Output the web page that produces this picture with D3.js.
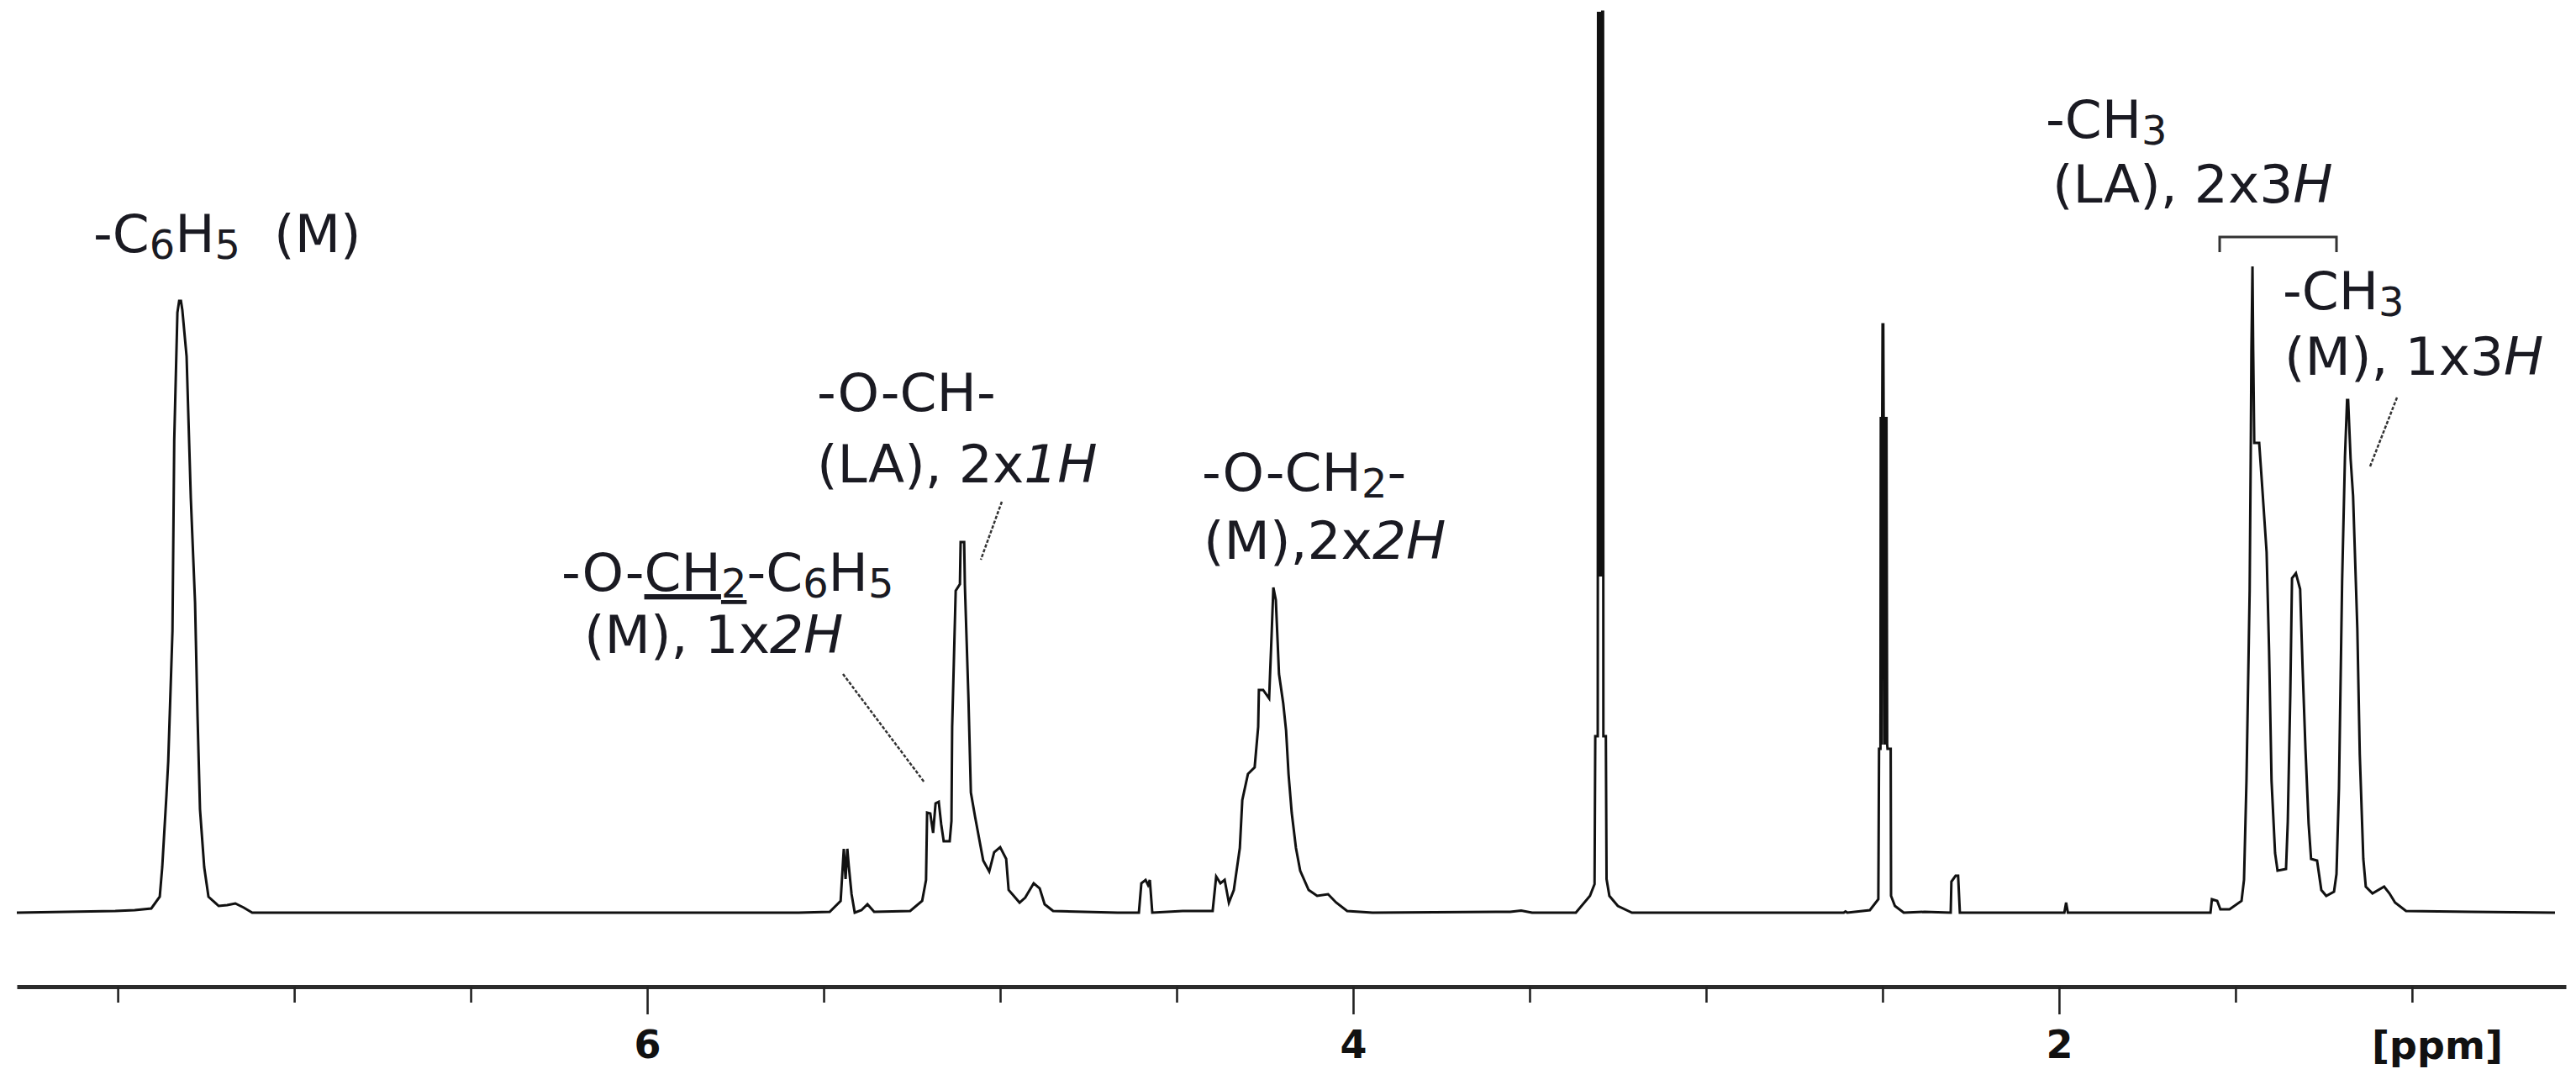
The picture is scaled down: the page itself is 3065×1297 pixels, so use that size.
<!DOCTYPE html>
<html>
<head>
<meta charset="utf-8">
<script src="https://cdn.jsdelivr.net/npm/d3@7"></script>
<style>
  body { margin: 0; background: #fff; }
  svg { display: block; }
  .lbl { font-family: "DejaVu Sans", Verdana, sans-serif; font-size: 63px; fill: #1a1a22; white-space: pre; }
  .axis text { font-family: "DejaVu Sans", Verdana, sans-serif; font-weight: bold; font-size: 46px; fill: #111; }
</style>
</head>
<body>
<div id="chart"></div>
<script>
// spectrum: [ppm, intensity]
var aromatic = [[7.786,0],[7.507,0.2],[7.452,0.3],[7.405,0.5],[7.381,1.9],[7.374,5.4],[7.362,14.0],[7.357,18.0],
  [7.345,33.5],[7.340,56.2],[7.331,71.4],[7.326,72.8],[7.321,72.8],[7.317,71.7],[7.305,66.2],[7.293,49.3],
  [7.281,36.9],[7.274,23.4],[7.267,12.3],[7.255,5.4],[7.243,1.9],[7.214,0.8],[7.190,0.9],[7.167,1.1],[7.143,0.6],[7.119,0]];

var esterRegion = [[5.571,0],[5.483,0.1],[5.452,1.4],[5.443,7.6],[5.438,4.0],[5.433,7.6],[5.429,5.6],[5.421,2.2],
  [5.412,0],[5.393,0.3],[5.376,1.0],[5.357,0.1],[5.255,0.2],[5.221,1.4],[5.210,3.9],[5.207,11.9],[5.198,11.8],
  [5.190,9.5],[5.183,13.0],[5.174,13.2],[5.167,10.5],[5.160,8.5],[5.143,8.5],[5.138,10.9],[5.136,22.1],
  [5.126,38.3],[5.114,39.1],[5.112,44.1],[5.102,44.1],[5.100,39.0],[5.090,25.7],[5.083,14.3],[5.071,11.4],
  [5.048,6.2],[5.031,4.9],[5.017,7.2],[5.000,7.8],[4.983,6.4],[4.976,2.7],[4.945,1.2],[4.929,1.8],[4.905,3.5],
  [4.888,2.9],[4.874,1.0],[4.850,0.2],[4.667,0],[4.607,0],[4.600,3.5],[4.588,3.9],[4.581,3.3],[4.576,3.9],
  [4.569,0],[4.483,0.2],[4.398,0.2],[4.388,4.3],[4.376,3.5],[4.364,3.9],[4.352,1.2],[4.338,2.7],[4.321,7.7],
  [4.314,13.4],[4.298,16.5],[4.279,17.3],[4.269,22.1],[4.267,26.5],[4.255,26.5],[4.238,25.5],[4.231,33.0],
  [4.226,38.7],[4.219,37.2],[4.210,28.4],[4.198,24.9],[4.190,21.7],[4.183,16.5],[4.174,11.9],[4.162,7.7],
  [4.150,5.0],[4.126,2.7],[4.102,2.0],[4.071,2.2],[4.048,1.2],[4.017,0.2],[3.945,0]];

var solventRegion = [[3.555,0.1],[3.524,0.25],[3.493,0],[3.369,0],[3.329,2.0],[3.316,3.4],[3.314,21],[3.307,21],
  [3.306,107.2],[3.304,40],[3.302,107.2],[3.300,40],[3.298,107.2],[3.296,40],[3.294,107.2],[3.292,107.2],
  [3.291,21],[3.284,21],[3.282,4.0],[3.274,2.0],[3.250,0.8],[3.210,0],
  [2.610,0],[2.605,0.15],[2.600,0],[2.536,0.3],[2.512,1.6],[2.510,19.5],[2.506,19.5],[2.505,59],[2.503,20],
  [2.501,59],[2.500,70],[2.498,70],[2.497,59],[2.495,20],[2.493,59],[2.491,20],[2.489,59],[2.487,20],
  [2.486,19.5],[2.477,19.5],[2.476,2.0],[2.465,0.8],[2.440,0],[2.381,0.1],[2.307,0],[2.305,3.7],[2.293,4.4],
  [2.286,4.4],[2.281,0],[1.985,0],[1.980,1.2],[1.975,0],[1.762,0]];

var methylRegion = [[1.571,0],[1.567,1.6],[1.552,1.4],[1.543,0.4],[1.517,0.4],[1.483,1.4],[1.476,3.9],
  [1.469,15.7],[1.460,38.3],[1.457,54.2],[1.455,66.9],[1.452,76.9],[1.450,66.9],[1.447,55.9],[1.433,55.9],
  [1.424,50.4],[1.412,42.9],[1.405,31.2],[1.398,15.7],[1.388,7.1],[1.381,5.0],[1.357,5.2],[1.352,10.8],
  [1.345,25.7],[1.340,39.8],[1.329,40.4],[1.317,38.5],[1.310,29.1],[1.302,19.6],[1.293,10.6],[1.286,6.4],
  [1.269,6.2],[1.257,2.7],[1.243,2.0],[1.221,2.5],[1.214,4.6],[1.207,14.8],[1.198,39.5],[1.190,54.2],
  [1.184,61.0],[1.181,61.0],[1.174,54.0],[1.167,49.6],[1.155,33.9],[1.148,18.8],[1.138,6.4],[1.131,3.1],
  [1.112,2.3],[1.079,3.1],[1.064,2.3],[1.048,1.2],[1.017,0.2],[0.833,0.1],[0.595,0]];

var majorTicks = [6, 4, 2];
var minorTicks = [7.5, 7.0, 6.5, 5.5, 5.0, 4.5, 3.5, 3.0, 2.5, 1.5, 1.0];
var unitLabel = "[ppm]";

// peak annotations: [text, style]  s = subscript, i = italic, u = underline
var labels = [
  {x: 111, y: 300, segs: [["-C",""],["6","s"],["H",""],["5","s"],["  (M)",""]]},
  {x: 972, y: 489, segs: [["-O-CH-",""]]},
  {x: 972, y: 574, segs: [["(LA), 2x",""],["1H","i"]]},
  {x: 1430, y: 584, segs: [["-O-CH",""],["2","s"],["-",""]]},
  {x: 1432, y: 665, segs: [["(M),2x",""],["2H","i"]]},
  {x: 668, y: 703, segs: [["-O-",""],["CH","u"],["2","su"],["-C",""],["6","s"],["H",""],["5","s"]]},
  {x: 695, y: 777, segs: [["(M), 1x",""],["2H","i"]]},
  {x: 2434, y: 164, segs: [["-CH",""],["3","s"]]},
  {x: 2442, y: 241, segs: [["(LA), 2x3",""],["H","i"]]},
  {x: 2716, y: 368, segs: [["-CH",""],["3","s"]]},
  {x: 2718, y: 446, segs: [["(M), 1x3",""],["H","i"]]}
];

var leaders = [
  [[1192,597],[1167,666]],
  [[1003,802],[1100,931]],
  [[2852,473],[2820,555]]
];

var svgWidth = 3065;
var svgHeight = 1297;

var svg = d3.select("#chart")
  .append("svg")
  .attr("width", svgWidth)
  .attr("height", svgHeight);

var x = d3.scaleLinear().domain([7.786, 0.564]).range([20, 3053]);
var y = d3.scaleLinear().domain([0, 100]).range([1086, 86]);
var axisY = 1174;

// spectrum
var spectrum = aromatic.concat(esterRegion, solventRegion, methylRegion);
var line = d3.line()
  .x(function(d) { return x(d[0]); })
  .y(function(d) { return y(d[1]); });

svg.append("path")
  .datum(spectrum)
  .attr("d", line)
  .attr("fill", "none")
  .attr("stroke", "#111")
  .attr("stroke-width", 3)
  .attr("stroke-linejoin", "miter");

// axis: minor ticks carry the domain line, major ticks carry labels
var minorAxis = d3.axisBottom(x).tickValues(minorTicks).tickSize(19).tickSizeOuter(0).tickFormat("");
var majorAxis = d3.axisBottom(x).tickValues(majorTicks).tickSize(33).tickSizeOuter(0).tickPadding(19)
  .tickFormat(d3.format("d"));

var gMinor = svg.append("g").attr("class", "axis").attr("transform", "translate(0," + axisY + ")").call(minorAxis);
gMinor.select(".domain").attr("stroke", "#2b2b2b").attr("stroke-width", 5);
gMinor.selectAll(".tick line").attr("stroke", "#222").attr("stroke-width", 2.6);

var gMajor = svg.append("g").attr("class", "axis").attr("transform", "translate(0," + axisY + ")").call(majorAxis);
gMajor.select(".domain").remove();
gMajor.selectAll(".tick line").attr("stroke", "#222").attr("stroke-width", 2.6);

svg.append("text")
  .attr("x", 2900)
  .attr("y", 1260)
  .attr("text-anchor", "middle")
  .style("font-family", "'DejaVu Sans', Verdana, sans-serif")
  .style("font-weight", "bold")
  .style("font-size", "46px")
  .attr("fill", "#111")
  .text(unitLabel);

// annotations
var gLab = svg.append("g");
labels.forEach(function(l) {
  var t = gLab.append("text").attr("class", "lbl").attr("x", l.x).attr("y", l.y);
  var shift = 0;
  l.segs.forEach(function(s) {
    var sp = t.append("tspan").text(s[0]);
    var sub = s[1].indexOf("s") >= 0;
    var want = sub ? 8 : 0;
    if (want !== shift) { sp.attr("dy", want - shift); shift = want; }
    if (sub) sp.style("font-size", "76%");
    if (s[1].indexOf("i") >= 0) sp.style("font-style", "italic");
    if (s[1].indexOf("u") >= 0) sp.style("text-decoration", "underline");
  });
});

svg.selectAll(".leader")
  .data(leaders)
  .enter()
  .append("line")
  .attr("class", "leader")
  .attr("x1", function(d) { return d[0][0]; })
  .attr("y1", function(d) { return d[0][1]; })
  .attr("x2", function(d) { return d[1][0]; })
  .attr("y2", function(d) { return d[1][1]; })
  .attr("stroke", "#333")
  .attr("stroke-width", 2.5)
  .attr("stroke-dasharray", "4,2");

// bracket over the LA methyl doublet
svg.append("path")
  .attr("d", "M" + x(1.545) + ",300V282H" + x(1.214) + "V300")
  .attr("fill", "none")
  .attr("stroke", "#333")
  .attr("stroke-width", 3);
</script>
</body>
</html>
